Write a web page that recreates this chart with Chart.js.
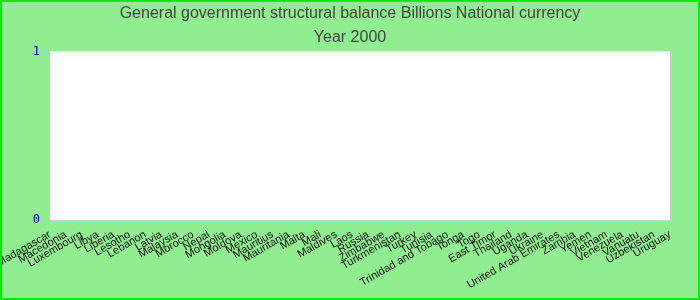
<!DOCTYPE html>
<html>
<head>
<meta charset="utf-8">
<script src="https://cdn.jsdelivr.net/npm/chart.js@4/dist/chart.umd.min.js"></script>
<style>
html,body{margin:0;padding:0;background:#90EE90;}
#wrap{position:relative;width:700px;height:300px;box-sizing:border-box;border:2px solid #00EE00;background:#90EE90;overflow:hidden;}
canvas{display:block;}
</style>
</head>
<body>
<div id="wrap"><canvas id="c" width="696" height="296"></canvas></div>
<script>
const categories = ["Madagascar","Macedonia","Luxembourg","Libya","Liberia","Lesotho","Lebanon","Latvia","Malaysia","Morocco","Nepal","Mongolia","Moldova","Mexico","Mauritius","Mauritania","Malta","Mali","Maldives","Laos","Russia","Zimbabwe","Turkmenistan","Turkey","Tunisia","Trinidad and Tobago","Tonga","Togo","East Timor","Thailand","Uganda","Ukraine","United Arab Emirates","Zambia","Yemen","Vietnam","Venezuela","Vanuatu","Uzbekistan","Uruguay"];
const balanceValues = [null,null,null,null,null,null,null,null,null,null,null,null,null,null,null,null,null,null,null,null,null,null,null,null,null,null,null,null,null,null,null,null,null,null,null,null,null,null,null,null];
const yTicks = [0, 1];
const titleText = "General government structural balance Billions National currency";
const subtitleText = "Year 2000";

const plotBg = {
  id: 'plotBg',
  beforeDraw(chart) {
    const {ctx, chartArea: a} = chart;
    ctx.save();
    ctx.fillStyle = '#ffffff';
    ctx.fillRect(a.left, a.top, a.right - a.left, a.bottom - a.top);
    ctx.strokeStyle = '#cccccc';
    ctx.lineWidth = 2;
    ctx.beginPath();
    ctx.moveTo(a.right + 1, a.top);
    ctx.lineTo(a.right + 1, a.bottom + 1);
    ctx.lineTo(a.left, a.bottom + 1);
    ctx.stroke();
    ctx.restore();
  }
};

new Chart(document.getElementById('c'), {
  type: 'line',
  data: {
    labels: categories,
    datasets: [{
      label: 'Structural balance',
      data: balanceValues,
      borderColor: '#3366cc',
      backgroundColor: '#3366cc',
      pointRadius: 0
    }]
  },
  options: {
    responsive: false,
    animation: false,
    layout: {padding: 0},
    plugins: {
      legend: {display: false},
      tooltip: {enabled: false},
      title: {
        display: true,
        text: titleText,
        color: '#444444',
        font: {family: 'Liberation Sans', size: 16, weight: 'normal'},
        padding: {top: 2, bottom: 5}
      },
      subtitle: {
        display: true,
        text: subtitleText,
        color: '#444444',
        font: {family: 'Liberation Sans', size: 16, weight: 'normal'},
        padding: {top: 0, bottom: 4}
      }
    },
    scales: {
      x: {
        offset: false,
        grid: {display: false, drawTicks: false},
        border: {display: false},
        afterFit(s) { s.height = 78; s.paddingLeft = 0; s.paddingRight = 0; },
        ticks: {
          autoSkip: false,
          minRotation: 30,
          maxRotation: 30,
          color: '#111111',
          padding: 8,
          font: {family: 'Liberation Sans', size: 11}
        }
      },
      y: {
        min: yTicks[0],
        max: yTicks[yTicks.length - 1],
        afterBuildTicks(scale) { scale.ticks = yTicks.map(v => ({value: v})); },
        afterFit(s) { s.width = 48; },
        grid: {display: false, drawTicks: false},
        border: {display: false},
        ticks: {
          color: '#0000aa',
          padding: 10,
          font: {family: 'DejaVu Sans Mono', size: 12}
        }
      },
      yRight: {
        position: 'right',
        display: true,
        min: 0,
        max: 1,
        afterFit(s) { s.width = 28; },
        grid: {display: false, drawTicks: false},
        border: {display: false},
        ticks: {display: false}
      }
    }
  },
  plugins: [plotBg]
});
</script>
</body>
</html>
